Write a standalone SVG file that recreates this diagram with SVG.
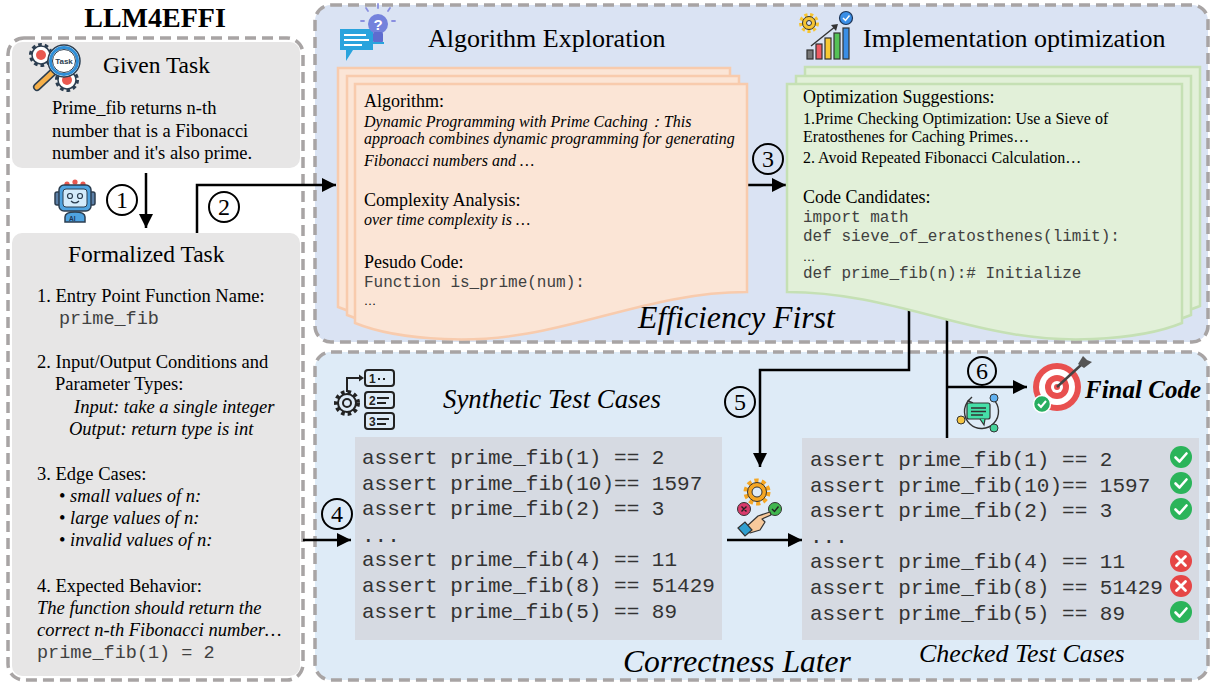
<svg xmlns="http://www.w3.org/2000/svg" width="1214" height="684" viewBox="0 0 1214 684">
<defs>
<style>
.serif{font-family:"Liberation Serif","Times New Roman",serif;fill:#000}
.it{font-style:italic}
.mono{font-family:"Liberation Mono","Courier New",monospace;fill:#404040}
.code{font-family:"Liberation Mono","Courier New",monospace;fill:#333;font-size:21px}
.panel{stroke:#a8a4a4;stroke-width:3.5;stroke-dasharray:11 6}
.gray{fill:#e7e6e6}
.conn{stroke:#000;stroke-width:2.5;fill:none}
.num{fill:none;stroke:#000;stroke-width:2}
.numt{font-family:"Liberation Serif","Times New Roman",serif;font-size:24px;text-anchor:middle}
.orange{fill:#fbe5d6;stroke:#f8cbad;stroke-width:2.5}
.green{fill:#e2f0d9;stroke:#c5e0b4;stroke-width:2.5}
.ol{stroke:#2c3e50;stroke-width:1.5}
</style>
<marker id="arr" viewBox="0 0 10 10" refX="10" refY="5" markerWidth="15" markerHeight="14" markerUnits="userSpaceOnUse" orient="auto"><path d="M0,0 L10,5 L0,10 Z" fill="#000"/></marker>
<g id="ok"><circle r="11" fill="#2bb45a"/><path d="M-5.5,0.5 L-1.5,4.5 L5.5,-3.5" fill="none" stroke="#fff" stroke-width="2.6" stroke-linecap="round" stroke-linejoin="round"/></g>
<g id="bad"><circle r="11" fill="#e64646"/><path d="M-4.5,-4.5 L4.5,4.5 M4.5,-4.5 L-4.5,4.5" stroke="#fff" stroke-width="2.8" stroke-linecap="round"/></g>
</defs>

<!-- panels -->
<g id="panel-left">
<rect x="8" y="38" width="295" height="642" rx="16" fill="#fff" class="panel"/>
</g>
<g id="panel-efficiency">
<rect x="315" y="5" width="893" height="337" rx="16" fill="#dae3f3" class="panel"/>
<text x="638" y="328" class="serif it" font-size="31.8">Efficiency First</text>
</g>
<g id="panel-correctness">
<rect x="315" y="352" width="893" height="328" rx="16" fill="#deebf7" class="panel"/>
<text x="623" y="672" class="serif it" font-size="31.6">Correctness Later</text>
</g>

<text x="155" y="27" class="serif" font-size="28" font-weight="bold" text-anchor="middle">LLM4EFFI</text>

<!-- connectors -->
<g id="connectors">
<line x1="146" y1="173" x2="146" y2="228" class="conn" marker-end="url(#arr)"/>
<polyline points="197,233 197,185 336,185" class="conn" marker-end="url(#arr)"/>
<line x1="748" y1="185" x2="786" y2="185" class="conn" marker-end="url(#arr)"/>
<line x1="303" y1="540" x2="351" y2="540" class="conn" marker-end="url(#arr)"/>
<polyline points="909,300 909,370 760,370 760,467" class="conn" marker-end="url(#arr)"/>
<line x1="947" y1="300" x2="947" y2="438" class="conn"/>
<line x1="947" y1="387" x2="1027" y2="387" class="conn" marker-end="url(#arr)"/>
<line x1="727" y1="540" x2="802" y2="540" class="conn" marker-end="url(#arr)"/>
<circle cx="122" cy="200" r="15" class="num"/><text x="122" y="208" class="numt">1</text>
<circle cx="224" cy="207" r="15" class="num"/><text x="224" y="215" class="numt">2</text>
<circle cx="768" cy="159" r="15" class="num"/><text x="768" y="167" class="numt">3</text>
<circle cx="337" cy="514" r="15" class="num"/><text x="337" y="522" class="numt">4</text>
<circle cx="740" cy="402" r="15" class="num"/><text x="740" y="410" class="numt">5</text>
<circle cx="982" cy="371" r="14" class="num"/><text x="982" y="379" class="numt">6</text>
</g>

<!-- Given task -->
<g id="given-task">
<rect x="12" y="42" width="288" height="126" rx="10" class="gray"/>
<g id="icon-task">
<circle cx="41" cy="55" r="10" fill="none" stroke="#2c3e50" stroke-width="4" stroke-dasharray="3.5 2.8"/>
<circle cx="41" cy="55" r="9" fill="#fff" class="ol"/>
<circle cx="41" cy="55" r="5" fill="#e8584f"/>
<circle cx="67" cy="80" r="10" fill="none" stroke="#2c3e50" stroke-width="4" stroke-dasharray="3.5 2.8"/>
<circle cx="67" cy="80" r="9" fill="#fff" class="ol"/>
<circle cx="67" cy="80" r="5" fill="#e8584f"/>
<line x1="52" y1="73" x2="37" y2="87" stroke="#2c3e50" stroke-width="8" stroke-linecap="round"/>
<line x1="52" y1="73" x2="37" y2="87" stroke="#f6b04a" stroke-width="5" stroke-linecap="round"/>
<circle cx="64" cy="61" r="16" fill="#fff" stroke="#2c3e50" stroke-width="1.5"/>
<circle cx="64" cy="61" r="13.5" fill="none" stroke="#2f8fd8" stroke-width="3"/>
<circle cx="64" cy="61" r="11.5" fill="#fff" stroke="#2c3e50" stroke-width="1"/>
<text x="64" y="64" font-family="Liberation Sans,Arial,sans-serif" font-size="8" font-weight="bold" fill="#2c3e50" text-anchor="middle">Task</text>
</g>
<text x="103" y="73" class="serif" font-size="23.5">Given Task</text>
<text class="serif" font-size="18.5"><tspan x="52" y="114">Prime_fib returns n-th</tspan><tspan x="52" y="137">number that is a Fibonacci</tspan><tspan x="52" y="159">number and it's also prime.</tspan></text>
</g>

<!-- robot icon -->
<g id="icon-robot">
<circle cx="67" cy="184" r="2.6" fill="#e8584f"/><circle cx="75" cy="182" r="2.6" fill="#e8584f"/><circle cx="83" cy="184" r="2.6" fill="#e8584f"/>
<rect x="55" y="192" width="6" height="13" rx="2" fill="#5b7fa6" class="ol"/>
<rect x="89" y="192" width="6" height="13" rx="2" fill="#5b7fa6" class="ol"/>
<rect x="59" y="185" width="32" height="26" rx="5" fill="#4fa3e0" class="ol"/>
<rect x="63" y="189" width="24" height="18" rx="3" fill="#d3ebfb" stroke="#2c3e50" stroke-width="1"/>
<circle cx="70" cy="196" r="2.5" fill="none" stroke="#2c3e50" stroke-width="1.2"/>
<circle cx="80" cy="196" r="2.5" fill="none" stroke="#2c3e50" stroke-width="1.2"/>
<path d="M71,201 Q75,205 79,201" fill="none" stroke="#2c3e50" stroke-width="1.2"/>
<path d="M65,222 V217 Q65,212 75,212 Q85,212 85,217 V222 Z" fill="#4fa3e0" class="ol"/>
<text x="69" y="220.5" font-family="Liberation Sans,Arial,sans-serif" font-size="6.5" font-weight="bold" fill="#1d3557">AI</text>
</g>

<!-- Formalized task -->
<g id="formalized-task">
<rect x="12" y="233" width="288" height="443" rx="10" class="gray"/>
<text x="68" y="262" class="serif" font-size="23.5">Formalized Task</text>
<g class="serif" font-size="18.5">
<text x="37" y="302">1. Entry Point Function Name:</text>
<text x="59" y="324" class="mono" font-size="18.5">prime_fib</text>
<text x="37" y="368">2. Input/Output Conditions and</text>
<text x="55" y="390">Parameter Types:</text>
<text x="74" y="413" class="serif it">Input: take a single integer</text>
<text x="69" y="435" class="serif it">Output: return type is int</text>
<text x="37" y="480">3. Edge Cases:</text>
<text x="59" y="502">• <tspan class="it">small values of n:</tspan></text>
<text x="59" y="524">• <tspan class="it">large values of n:</tspan></text>
<text x="59" y="546">• <tspan class="it">invalid values of n:</tspan></text>
<text x="37" y="592">4. Expected Behavior:</text>
<text x="37" y="614" class="serif it">The function should return the</text>
<text x="37" y="636" class="serif it">correct n-th Fibonacci number…</text>
<text x="37" y="658" class="mono" font-size="18.5">prime_fib(1) = 2</text>
</g>
</g>

<!-- Algorithm exploration -->
<g id="algorithm-exploration">
<g id="icon-idea">
<path d="M340,29 H373 V50 H353 L346,61 V50 H340 Z" fill="#29a3dd"/>
<path d="M344,35 H366 M344,40 H369 M344,45 H362" stroke="#fff" stroke-width="1.8"/>
<g stroke="#8a8fe0" stroke-width="1.8" stroke-linecap="round"><line x1="378" y1="4" x2="378" y2="8"/><line x1="366" y1="8" x2="368" y2="11"/><line x1="390" y1="8" x2="388" y2="11"/><line x1="361" y1="21" x2="364" y2="21"/><line x1="392" y1="21" x2="395" y2="21"/></g>
<circle cx="378" cy="24" r="10" fill="#7482dc"/>
<rect x="373" y="32" width="10" height="11" rx="2" fill="#5e6ccf"/>
<path d="M372,43 H384" stroke="#29a3dd" stroke-width="2"/>
<text x="378" y="30" font-family="Liberation Sans,Arial,sans-serif" font-size="15" font-weight="bold" fill="#fff" text-anchor="middle">?</text>
</g>
<text x="428" y="47" class="serif" font-size="26">Algorithm Exploration</text>
<path d="M338,68 H730 V276 C620,276 540,329 427,323 C380,321 355,314 338,307 Z" class="orange"/>
<path d="M347,76 H739 V284 C629,284 549,337 436,331 C389,329 364,322 347,315 Z" class="orange"/>
<path d="M355,84 H747 V292 C637,292 557,345 444,339 C397,337 372,330 355,323 Z" class="orange"/>
<text x="364" y="107" class="serif" font-size="18">Algorithm:</text>
<text class="serif it" font-size="16"><tspan x="364" y="127">Dynamic Programming with Prime Caching：This</tspan><tspan x="364" y="144">approach combines dynamic programming for generating</tspan><tspan x="364" y="166">Fibonacci numbers and …</tspan></text>
<text x="364" y="206" class="serif" font-size="18">Complexity Analysis:</text>
<text x="364" y="225" class="serif it" font-size="16">over time complexity is …</text>
<text x="364" y="268" class="serif" font-size="18">Pesudo Code:</text>
<text x="364" y="287" class="mono" font-size="16">Function is_prime(num):</text>
<text x="364" y="305" class="serif" font-size="12">…</text>
</g>

<!-- Implementation optimization -->
<g id="implementation-optimization">
<g id="icon-chart">
<circle cx="809" cy="23" r="8" fill="none" stroke="#f7c531" stroke-width="4" stroke-dasharray="3 2.5"/>
<circle cx="809" cy="23" r="6.5" fill="#f7c531" stroke="#333" stroke-width="1"/>
<circle cx="809" cy="23" r="2.5" fill="#dae3f3" stroke="#333" stroke-width="1"/>
<path d="M811,46 L836,26" stroke="#333" stroke-width="1.5"/>
<path d="M831,25 L838,24 L836,31 Z" fill="#333"/>
<rect x="807" y="50" width="6" height="9" fill="#777" stroke="#333" stroke-width="1.2"/>
<rect x="816" y="44" width="6" height="15" fill="#ee5b63" stroke="#333" stroke-width="1.2"/>
<rect x="825" y="38" width="6" height="21" fill="#f8c933" stroke="#333" stroke-width="1.2"/>
<rect x="834" y="33" width="6" height="26" fill="#55c156" stroke="#333" stroke-width="1.2"/>
<rect x="843" y="28" width="6" height="31" fill="#3a8ee6" stroke="#333" stroke-width="1.2"/>
<circle cx="846" cy="18" r="6.5" fill="#3a8ee6" stroke="#1d3557" stroke-width="1.2"/>
<path d="M843,18 L845.5,20.5 L849.5,15.5" fill="none" stroke="#fff" stroke-width="1.5"/>
</g>
<text x="863" y="47" class="serif" font-size="26">Implementation optimization</text>
<path d="M805,67 H1200 V306 C1183,313 1158,320 1111,322 C998,328 918,275 805,275 Z" class="green"/>
<path d="M796,76 H1191 V315 C1174,322 1149,329 1102,331 C989,337 909,284 796,284 Z" class="green"/>
<path d="M787,84 H1182 V323 C1165,330 1140,337 1093,339 C980,345 900,292 787,292 Z" class="green"/>
<text x="803" y="103" class="serif" font-size="18">Optimization Suggestions:</text>
<text class="serif" font-size="16"><tspan x="803" y="124">1.Prime Checking Optimization: Use a Sieve of</tspan><tspan x="803" y="142">Eratosthenes for Caching Primes…</tspan><tspan x="803" y="163">2. Avoid Repeated Fibonacci Calculation…</tspan></text>
<text x="803" y="203" class="serif" font-size="18">Code Candidates:</text>
<g class="mono" font-size="16">
<text x="803" y="222">import math</text>
<text x="803" y="241">def sieve_of_eratosthenes(limit):</text>
<text x="803" y="261" class="serif" font-size="12">…</text>
<text x="803" y="278">def prime_fib(n):# Initialize</text>
</g>
</g>

<!-- Synthetic test cases -->
<g id="synthetic-tests">
<g id="icon-list">
<circle cx="347" cy="403" r="11" fill="none" stroke="#222" stroke-width="4" stroke-dasharray="3.5 3"/>
<circle cx="347" cy="403" r="9" fill="#deebf7" stroke="#222" stroke-width="2"/>
<circle cx="347" cy="403" r="4" fill="none" stroke="#222" stroke-width="2"/>
<path d="M347,392 V378 H361" fill="none" stroke="#222" stroke-width="2"/>
<path d="M359,374.5 L364,378 L359,381.5 Z" fill="#222"/>
<rect x="365" y="370" width="29" height="16" rx="3" fill="none" stroke="#222" stroke-width="2"/>
<rect x="365" y="392" width="29" height="16" rx="3" fill="none" stroke="#222" stroke-width="2"/>
<rect x="365" y="413" width="29" height="16" rx="3" fill="none" stroke="#222" stroke-width="2"/>
<g font-family="Liberation Sans,Arial,sans-serif" font-size="12" font-weight="bold" fill="#222"><text x="369" y="383">1</text><text x="369" y="405">2</text><text x="369" y="426">3</text></g>
<path d="M378,379 H380 M383,379 H385 M377,398 H389 M377,403 H386 M377,419 H389 M377,424 H386" stroke="#222" stroke-width="2"/>
</g>
<text x="443" y="408" class="serif it" font-size="26.8">Synthetic Test Cases</text>
<rect x="355" y="437" width="367" height="203" fill="#d6dae2"/>
<g class="code">
<text x="362" y="464">assert prime_fib(1) == 2</text>
<text x="362" y="490">assert prime_fib(10)== 1597</text>
<text x="362" y="515">assert prime_fib(2) == 3</text>
<text x="362" y="542">...</text>
<text x="362" y="566">assert prime_fib(4) == 11</text>
<text x="362" y="592">assert prime_fib(8) == 51429</text>
<text x="362" y="618">assert prime_fib(5) == 89</text>
</g>
</g>

<!-- checker icon -->
<g id="icon-checker">
<circle cx="757" cy="492" r="11" fill="none" stroke="#f5a623" stroke-width="5" stroke-dasharray="4 3"/>
<circle cx="757" cy="492" r="9.5" fill="#f5a623" stroke="#333" stroke-width="1"/>
<circle cx="757" cy="492" r="5" fill="#deebf7" stroke="#333" stroke-width="1"/>
<circle cx="744" cy="509" r="6.5" fill="#d83a6b" stroke="#333" stroke-width="1"/>
<path d="M741.5,506.5 L746.5,511.5 M746.5,506.5 L741.5,511.5" stroke="#222" stroke-width="1.4"/>
<circle cx="775" cy="509" r="6.5" fill="#41b64f" stroke="#333" stroke-width="1"/>
<path d="M772,509 L774.5,511.5 L778.5,506.5" fill="none" stroke="#222" stroke-width="1.4"/>
<path d="M746,527 L758,516 L770,512 L771,515 L762,519 L765,522 L760,530 L750,533 Z" fill="#f7c99b" stroke="#333" stroke-width="1.2" stroke-linejoin="round"/>
<path d="M738,528 L745,522 L752,530 L745,536 Z" fill="#2f9fd0" stroke="#333" stroke-width="1.2"/>
</g>

<!-- feedback icon -->
<g id="icon-feedback">
<path d="M993,399 A17,17 0 1 1 969,400" fill="none" stroke="#333" stroke-width="1.4"/>
<path d="M972,397 L968,401 L973,403" fill="none" stroke="#333" stroke-width="1.4"/>
<rect x="967" y="403" width="23" height="16" rx="2" fill="#45e0a8" stroke="#333" stroke-width="1.2"/>
<path d="M980,419 L984,425 L985,419" fill="#45e0a8" stroke="#333" stroke-width="1.2"/>
<path d="M971,408 H986 M971,411.5 H986 M971,415 H983" stroke="#333" stroke-width="1.3"/>
<circle cx="994" cy="398" r="4" fill="#5fb0f0" stroke="#333" stroke-width="1"/>
<circle cx="961" cy="420" r="4" fill="#f5c542" stroke="#333" stroke-width="1"/>
<circle cx="994" cy="428" r="4" fill="#45d29a" stroke="#333" stroke-width="1"/>
</g>

<!-- Final code -->
<g id="final-code">
<g id="icon-target">
<circle cx="1057" cy="387" r="24" fill="#e8504f"/>
<circle cx="1057" cy="387" r="18" fill="#fff"/>
<circle cx="1057" cy="387" r="12" fill="#e8504f"/>
<circle cx="1057" cy="387" r="6" fill="#fff"/>
<circle cx="1057" cy="387" r="3" fill="#e8504f"/>
<line x1="1057" y1="387" x2="1081" y2="365" stroke="#444" stroke-width="2.5"/>
<path d="M1078,364 L1083,356 L1087,360 L1092,362 L1084,368 Z" fill="#555"/>
<circle cx="1042" cy="404" r="8.5" fill="#27ae60" stroke="#fff" stroke-width="1.5"/>
<path d="M1038,404 L1041,407 L1046,401" fill="none" stroke="#fff" stroke-width="2"/>
</g>
<text x="1085" y="398" class="serif it" font-size="25" font-weight="bold">Final Code</text>
</g>

<!-- Checked test cases -->
<g id="checked-tests">
<rect x="802" y="438" width="397" height="202" fill="#d6dae2"/>
<g class="code">
<text x="810" y="466">assert prime_fib(1) == 2</text>
<text x="810" y="492">assert prime_fib(10)== 1597</text>
<text x="810" y="517">assert prime_fib(2) == 3</text>
<text x="810" y="543">...</text>
<text x="810" y="568">assert prime_fib(4) == 11</text>
<text x="810" y="594">assert prime_fib(8) == 51429</text>
<text x="810" y="620">assert prime_fib(5) == 89</text>
</g>
<use href="#ok" x="1181" y="457"/>
<use href="#ok" x="1181" y="483"/>
<use href="#ok" x="1181" y="509"/>
<use href="#bad" x="1181" y="561"/>
<use href="#bad" x="1181" y="586"/>
<use href="#ok" x="1181" y="612"/>
<text x="919" y="662" class="serif it" font-size="26">Checked Test Cases</text>
</g>
</svg>
